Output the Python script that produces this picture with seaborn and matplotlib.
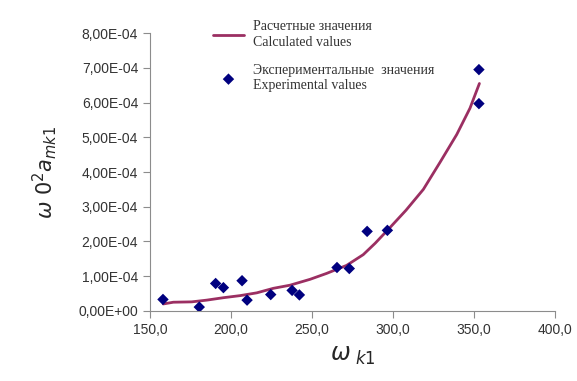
import numpy as np
import pandas as pd
import seaborn as sns
import matplotlib.pyplot as plt
from matplotlib.ticker import FuncFormatter

# experimental points
exp_w = [158, 180.4, 190.5, 195.3, 206.8, 209.9, 224.5, 237.7, 242.2,
         265.4, 273.0, 284.0, 296.5, 353.0, 353.0]
exp_a = [3.3e-5, 1.1e-5, 7.9e-5, 6.7e-5, 8.7e-5, 3.1e-5, 4.7e-5, 5.9e-5, 4.6e-5,
         1.25e-4, 1.22e-4, 2.29e-4, 2.32e-4, 6.95e-4, 5.97e-4]

# calculated curve
calc_w = [158.2, 164.4, 175.7, 185.0, 195.3, 205.6, 215.9, 226.1, 236.4, 248.8,
          259.0, 271.3, 281.6, 289.0, 298.1, 308.0, 318.7, 329.0, 339.3, 347.5, 353.3]
calc_a = [2.0e-5, 2.5e-5, 2.6e-5, 3.1e-5, 3.8e-5, 4.4e-5, 5.2e-5, 6.5e-5, 7.4e-5, 9.1e-5,
          1.08e-4, 1.31e-4, 1.62e-4, 1.95e-4, 2.40e-4, 2.90e-4, 3.50e-4, 4.28e-4, 5.08e-4,
          5.84e-4, 6.55e-4]

x_ticks = [150, 200, 250, 300, 350, 400]
y_ticks = [0, 1e-4, 2e-4, 3e-4, 4e-4, 5e-4, 6e-4, 7e-4, 8e-4]

calc_df = pd.DataFrame({'w': calc_w, 'a': calc_a})
exp_df = pd.DataFrame({'w': exp_w, 'a': exp_a})

sns.set_style('ticks')
plt.rcParams['font.family'] = ['Liberation Sans', 'DejaVu Sans']

fig = plt.figure(figsize=(5.77, 3.81), dpi=100)
ax = fig.add_axes([0.26, 0.184, 0.702, 0.729])

sns.lineplot(data=calc_df, x='w', y='a', ax=ax, color='#9b2f62', lw=2,
             label='Расчетные значения\nCalculated values')
sns.scatterplot(data=exp_df, x='w', y='a', ax=ax, color='#00007f', marker='D',
                s=34, edgecolor='none', zorder=3,
                label='Экспериментальные  значения\nExperimental values')

ax.set_xlim(150, 400)
ax.set_ylim(0, 8e-4)
ax.set_xticks(x_ticks)
ax.set_yticks(y_ticks)
ax.xaxis.set_major_formatter(FuncFormatter(lambda v, p: f'{v:.1f}'.replace('.', ',')))

def sci(v, p):
    s = f'{v:.2E}'.replace('.', ',')
    return s
ax.yaxis.set_major_formatter(FuncFormatter(sci))

ax.tick_params(labelsize=10, colors='#8c8c8c', labelcolor='#333333', length=5)
for side in ['left', 'bottom']:
    ax.spines[side].set_color('#8c8c8c')
sns.despine(ax=ax)

ax.set_xlabel(r'$\omega_{\ k1}$', fontsize=17, labelpad=6)
ax.set_ylabel(r'$\omega\ 0^2 a_{mk1}$', fontsize=15, labelpad=14)

leg = ax.legend(loc='upper left', bbox_to_anchor=(200 / 577, 1 - 8 / 381),
                bbox_transform=fig.transFigure, frameon=False,
                prop={'family': 'Liberation Serif', 'size': 10},
                handlelength=2.3, labelspacing=1.1, handletextpad=0.6)
for t in leg.get_texts():
    t.set_color('#333333')

fig.savefig('out.png', dpi=100)
